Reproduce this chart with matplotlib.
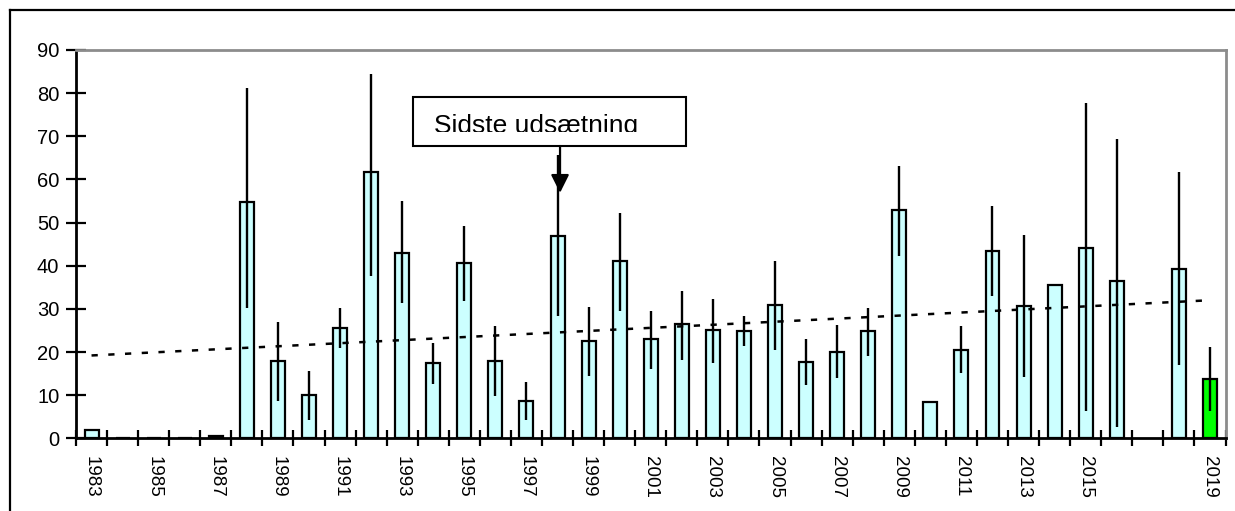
import matplotlib
matplotlib.use("Agg")
import matplotlib.pyplot as plt
from matplotlib.patches import Rectangle
from matplotlib.lines import Line2D
import numpy as np

plt.rcParams['font.family'] = ['Liberation Sans', 'DejaVu Sans']

# ---------------- data ----------------
years = list(range(1983, 2020))
values = [2.0, 0, 0, 0, 0.6, 54.7, 18.0, 10.0, 25.5, 61.7,
          43.0, 17.4, 40.6, 18.0, 8.7, 47.0, 22.6, 41.1, 22.9, 26.4,
          25.0, 24.9, 30.9, 17.6, 20.1, 24.8, 52.8, 8.5, 20.5, 43.4,
          30.7, 35.5, 44.0, 36.4, None, 39.3, 13.8]
err_hi = [None, None, None, None, None, 81.1, 27.0, 15.7, 30.1, 84.5,
          54.9, 22.0, 49.2, 26.0, 13.0, 65.7, 30.5, 52.3, 29.5, 34.2,
          32.4, 28.4, 41.2, 23.0, 26.3, 30.3, 63.2, None, 26.0, 53.9,
          47.1, None, 77.7, 69.3, None, 61.8, 21.1]
err_lo = [None, None, None, None, None, 30.1, 8.7, 4.3, 20.9, 37.7,
          31.3, 12.5, 31.9, 9.9, 4.3, 28.4, 14.5, 29.4, 16.0, 18.2,
          17.4, 21.3, 20.5, 12.4, 13.9, 19.1, 42.3, None, 15.1, 33.0,
          14.1, None, 6.4, 2.7, None, 17.0, 6.4]
labeled_years = [1983, 1985, 1987, 1989, 1991, 1993, 1995, 1997, 1999, 2001,
                 2003, 2005, 2007, 2009, 2011, 2013, 2015, 2019]
highlight_year = 2019
trend_start, trend_end = 19.2, 32.0
annotation_text = "Sidste udsætning"
annotation_year = 1998
annotation_tip = 56.9

# ---------------- figure ----------------
fig = plt.figure(figsize=(12.35, 5.11), dpi=100)
W, H = 1235, 511
ax = fig.add_axes([76 / W, 1 - 438.3 / H, (1225.5 - 76) / W, (438.3 - 50) / H])

n = len(years)
idx = np.arange(n)
bx = [i for i, v in zip(idx, values) if v is not None]
bv = [v for v in values if v is not None]
bc = ['#00FF00' if years[i] == highlight_year else '#CCFFFF' for i in bx]
ax.bar(bx, bv, width=0.45, color=bc, edgecolor='black', linewidth=1.6, zorder=2)

ex = [i for i in idx if err_hi[i] is not None]
ax.vlines(ex, [err_lo[i] for i in ex], [err_hi[i] for i in ex],
          colors='black', linewidth=1.7, zorder=3)

# trend line
ax.plot([0, n - 1], [trend_start, trend_end], color='black', linewidth=1.8,
        dashes=(2.5, 4.2), zorder=3)

ax.set_xlim(-0.5, n - 0.5)
ax.set_ylim(0, 90)
ax.set_yticks(range(0, 91, 10))
ax.set_xticks(np.arange(-0.5, n, 1.0))
ax.set_xticklabels([])
ax.set_xticks([years.index(y) for y in labeled_years], minor=True)
ax.set_xticklabels([str(y) for y in labeled_years], minor=True, rotation=-90,
                   fontsize=13.5, va='top', ha='center')
ax.tick_params(axis='x', which='major', direction='inout', length=12, width=1.6)
ax.tick_params(axis='x', which='minor', length=0, pad=13)
ax.tick_params(axis='y', direction='inout', length=14, width=1.6, labelsize=14.5, pad=5)

for s in ['left', 'bottom']:
    ax.spines[s].set_linewidth(2)
    ax.spines[s].set_color('black')
for s in ['top', 'right']:
    ax.spines[s].set_linewidth(2)
    ax.spines[s].set_color('#8c8c8c')
ax.spines['bottom'].set_zorder(5)

# annotation box
x_arrow = years.index(annotation_year) + 0.08
box = Rectangle((10.35, 67.75), 19.13 - 10.35, 79.1 - 67.75, facecolor='white',
                edgecolor='black', linewidth=1.5, zorder=4)
ax.add_patch(box)
clip = Rectangle((10.35, 70.9), 19.13 - 10.35, 79.1 - 70.9, transform=ax.transData,
                 facecolor='none', edgecolor='none')
t = ax.text(11.02, 70.7, annotation_text, fontsize=19, ha='left', va='baseline',
            zorder=5, clip_on=True)
t.set_clip_path(clip)
ax.annotate('', xy=(x_arrow, annotation_tip), xytext=(x_arrow, 67.75),
            arrowprops=dict(arrowstyle='-|>,head_length=1.0,head_width=0.5',
                            mutation_scale=11, color='black', lw=1.6,
                            shrinkA=0, shrinkB=0), zorder=5)

# outer frame (top and left edges)
fig.add_artist(Line2D([9.5 / W, 9.5 / W], [0, 1 - 10.5 / H], transform=fig.transFigure,
                      color='black', linewidth=1.6))
fig.add_artist(Line2D([9.5 / W, 1], [1 - 10.5 / H, 1 - 10.5 / H], transform=fig.transFigure,
                      color='black', linewidth=1.6))

fig.savefig('out.png', dpi=100)
